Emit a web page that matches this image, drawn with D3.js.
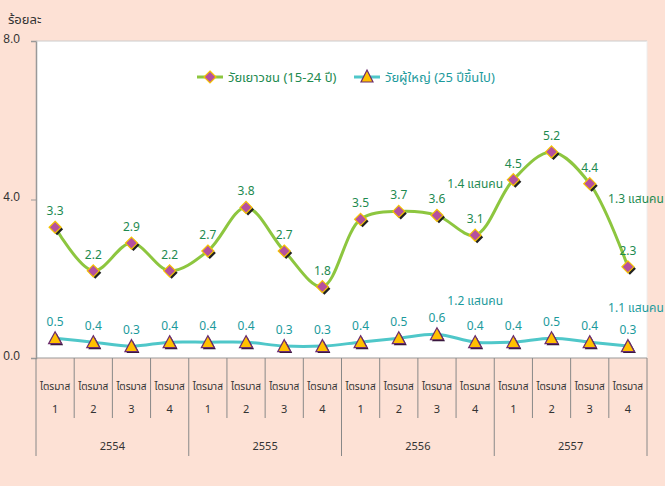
<!DOCTYPE html>
<html><head><meta charset="utf-8">
<script src="https://cdn.jsdelivr.net/npm/d3@7"></script>
<style>
body{margin:0;background:#FDE1D5;}
svg{display:block;font-family:"Noto Sans","Noto Sans Thai",Tahoma,sans-serif;}
</style></head><body>
<svg id="c" width="665" height="486"></svg>
<script>
const years = ["2554","2555","2556","2557"];
const quarters = ["1","2","3","4"];
const quarterWord = "ไตรมาส";
const youth = [3.3,2.2,2.9,2.2, 2.7,3.8,2.7,1.8, 3.5,3.7,3.6,3.1, 4.5,5.2,4.4,2.3];
const adult = [0.5,0.4,0.3,0.4, 0.4,0.4,0.3,0.3, 0.4,0.5,0.6,0.4, 0.4,0.5,0.4,0.3];
const yTicks = [0,4,8];
const seriesNames = ["วัยเยาวชน (15-24 ปี)","วัยผู้ใหญ่ (25 ปีขึ้นไป)"];
const notes = [
  {text:"1.4 แสนคน", idx:11, v:4.3, s:0},
  {text:"1.3 แสนคน", idx:15, v:3.9, s:0},
  {text:"1.2 แสนคน", idx:11, v:1.35, s:1},
  {text:"1.1 แสนคน", idx:15, v:1.15, s:1}
];

const svg = d3.select("#c");
const L=36, R=647, T=41, B=358;
const cats = d3.range(16);
const x = d3.scaleBand().domain(cats).range([L,R]).padding(0);
const y = d3.scaleLinear().domain([0,8]).range([B,T]);
const cx = i => x(i)+x.bandwidth()/2;

svg.append("rect").attr("x",L).attr("y",T).attr("width",R-L).attr("height",B-T).attr("fill","#fff");

// y axis
const ya = svg.append("g").attr("transform",`translate(${L},0)`)
  .call(d3.axisLeft(y).tickValues(yTicks).tickFormat(d3.format(".1f")).tickSize(5).tickPadding(11));
ya.select(".domain").attr("stroke","#999").attr("stroke-width",1.5);
ya.selectAll(".tick line").attr("stroke","#999");
ya.selectAll("text").attr("fill","#333").style("font-size","12px").attr("dy","0.1em");
svg.append("line").attr("x1",L).attr("x2",R).attr("y1",T).attr("y2",T).attr("stroke","#ccc");
svg.append("line").attr("x1",R).attr("x2",R).attr("y1",T).attr("y2",B).attr("stroke","#eee");

svg.append("text").attr("x",8).attr("y",24).text("ร้อยละ").attr("fill","#333").style("font-size","13px");

// x axis
svg.append("line").attr("x1",L).attr("x2",R).attr("y1",B).attr("y2",B).attr("stroke","#999").attr("stroke-width",1.2);
cats.forEach(i=>{
  const bx = x(i);
  const isYear = i%4===0;
  svg.append("line").attr("x1",bx).attr("x2",bx).attr("y1",B).attr("y2",isYear?456:418).attr("stroke","#888");
  svg.append("text").attr("x",cx(i)).attr("y",390).attr("text-anchor","middle").text(quarterWord)
    .attr("fill","#333").style("font-size","10px");
  svg.append("text").attr("x",cx(i)).attr("y",413).attr("text-anchor","middle").text(quarters[i%4])
    .attr("fill","#333").style("font-size","11px");
});
svg.append("line").attr("x1",R).attr("x2",R).attr("y1",B).attr("y2",456).attr("stroke","#888");
years.forEach((yr,k)=>{
  const mx = (x(k*4)+x(k*4+3)+x.bandwidth())/2;
  svg.append("text").attr("x",mx).attr("y",450).attr("text-anchor","middle").text(yr)
    .attr("fill","#333").style("font-size","11px");
});

const line = d3.line().x((d,i)=>cx(i)).y(d=>y(d)).curve(d3.curveCatmullRom.alpha(0.5));
const cols = [{line:"#8DC63F", label:"#1E8A50"},{line:"#4FC7C9", label:"#1B9A9C"}];
const sets = [youth, adult];

sets.forEach((data,s)=>{
  svg.append("path").datum(data).attr("d",line).attr("fill","none").attr("stroke",cols[s].line).attr("stroke-width",3);
});

function diamond(g, px, py){
  const r=6;
  g.append("path").attr("d",`M${px+2},${py-r+2}L${px+r+2},${py+2}L${px+2},${py+r+2}L${px-r+2},${py+2}Z`).attr("fill","#222");
  g.append("path").attr("d",`M${px},${py-r}L${px+r},${py}L${px},${py+r}L${px-r},${py}Z`)
    .attr("fill","#B5509F").attr("stroke","#F5C400").attr("stroke-width",1.2);
}
function tri(g, px, py){
  const w=6.5,h=11;
  const p=(dx,dy)=>`M${px+dx},${py-h/2-1+dy}L${px+w+dx},${py+h/2+dy}L${px-w+dx},${py+h/2+dy}Z`;
  g.append("path").attr("d",p(1.5,1.5)).attr("fill","#2a1030");
  g.append("path").attr("d",p(0,0)).attr("fill","#FFC000").attr("stroke","#6B2C6E").attr("stroke-width",1.2);
}
const mg = svg.append("g");
youth.forEach((v,i)=>diamond(mg,cx(i),y(v)));
adult.forEach((v,i)=>tri(mg,cx(i),y(v)));

sets.forEach((data,s)=>{
  data.forEach((v,i)=>{
    svg.append("text").attr("x",cx(i)).attr("y",y(v)-12).attr("text-anchor","middle")
      .text(d3.format(".1f")(v)).attr("fill",cols[s].label).style("font-size","12px");
  });
});

notes.forEach(n=>{
  svg.append("text").attr("x",cx(n.idx)+(n.idx===15?8:0)).attr("y",y(n.v)).attr("text-anchor","middle")
    .text(n.text).attr("fill",cols[n.s].label).style("font-size","12px");
});

// legend
const lg = svg.append("g");
lg.append("line").attr("x1",197).attr("x2",223).attr("y1",77).attr("y2",77).attr("stroke",cols[0].line).attr("stroke-width",3);
lg.append("path").attr("d","M210,71L216,77L210,83L204,77Z").attr("fill","#B5509F").attr("stroke","#F5C400").attr("stroke-width",1.2);
lg.append("text").attr("x",228).attr("y",82).text(seriesNames[0]).attr("fill",cols[0].label).style("font-size","13px");
lg.append("line").attr("x1",354).attr("x2",380).attr("y1",77).attr("y2",77).attr("stroke",cols[1].line).attr("stroke-width",3);
lg.append("path").attr("d","M367,70L373,82L361,82Z").attr("fill","#FFC000").attr("stroke","#6B2C6E").attr("stroke-width",1.2);
lg.append("text").attr("x",385).attr("y",82).text(seriesNames[1]).attr("fill",cols[1].label).style("font-size","13px");
</script></body></html>
